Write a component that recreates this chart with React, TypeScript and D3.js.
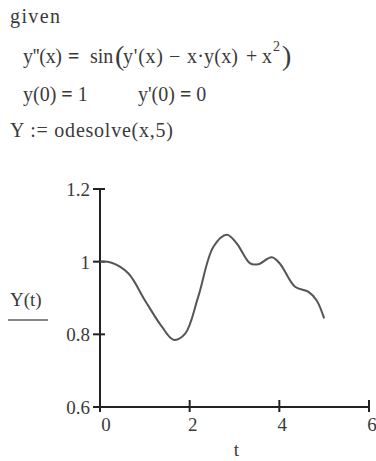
import React from 'react';
import * as d3 from 'd3';

// Y(t), t from 0 to 5
const tValues = [0, 0.26, 0.63, 1.0, 1.38, 1.64, 1.9, 2.19, 2.53, 2.83, 3.05, 3.35, 3.53, 3.83, 4.01, 4.35, 4.65, 4.83, 5.0];
const yValues = [1.0, 0.997, 0.968, 0.894, 0.821, 0.785, 0.802, 0.903, 1.041, 1.074, 1.05, 0.995, 0.993, 1.012, 0.995, 0.931, 0.917, 0.894, 0.844];

const xTicks = [0, 2, 4, 6];
const yTicks = [0.6, 0.8, 1, 1.2];
const xTickLabels = ['0', '2', '4', '6'];
const yTickLabels = ['0.6', '0.8', '1', '1.2'];

const W = 376;
const H = 461;
const font = '"Liberation Serif", "Times New Roman", serif';
const ink = '#3a3a3a';

export default function App() {
  const x = d3.scaleLinear().domain([0, 6]).range([100, 369]);
  const y = d3.scaleLinear().domain([0.6, 1.2]).range([407, 189]);

  const pts = tValues.map((t, i) => [t, yValues[i]] as [number, number]);
  const line = d3
    .line<[number, number]>()
    .x(d => x(d[0]))
    .y(d => y(d[1]))
    .curve(d3.curveCatmullRom.alpha(0.5));

  const x0 = x(0);
  const yBase = y(0.6);

  return (
    <svg
      width={W}
      height={H}
      style={{ position: 'absolute', left: 0, top: 0, background: '#fff' }}
      fontFamily={font}
    >
      {/* worksheet text */}
      <g fill={ink} fontSize={20}>
        <text x={10} y={23} textLength={50}>given</text>

        <text x={23} y={63} textLength={39}>y''(x)</text>
        <text x={68} y={63} fontWeight="bold">=</text>
        <text x={90} y={63}>sin</text>
        <text x={115} y={65} fontSize={28}>(</text>
        <text x={123} y={63} textLength={40}>y'(x)</text>
        <text x={169} y={63}>−</text>
        <text x={187} y={63} textLength={51}>x·y(x)</text>
        <text x={246} y={63}>+</text>
        <text x={262} y={63}>x</text>
        <text x={273} y={51} fontSize={14}>2</text>
        <text x={282} y={65} fontSize={28}>)</text>

        <text x={23} y={101}>y(0) <tspan fontWeight="bold">=</tspan> 1</text>
        <text x={138} y={101}>y'(0) <tspan fontWeight="bold">=</tspan> 0</text>
        <text x={10} y={137} textLength={163}>Y := odesolve(x,5)</text>
      </g>

      {/* axes */}
      <g stroke="#222" strokeWidth={2} fill="none">
        <line x1={x0} x2={x0} y1={y(1.2)} y2={yBase} />
        <line x1={x0} x2={x(6)} y1={yBase} y2={yBase} />
        {yTicks.map(v => (
          <line key={'yt' + v} x1={x0 - 7} x2={x0 + 5} y1={y(v)} y2={y(v)} />
        ))}
        {xTicks.map(v => (
          <line key={'xt' + v} x1={x(v)} x2={x(v)} y1={yBase - 7} y2={yBase + 5} />
        ))}
      </g>

      {/* tick labels */}
      <g fill={ink} fontSize={19}>
        {yTicks.map((v, i) => (
          <text key={'yl' + v} x={90} y={y(v) + 7} textAnchor="end">
            {yTickLabels[i]}
          </text>
        ))}
        {xTicks.map((v, i) => (
          <text key={'xl' + v} x={x(v) + (i === 0 ? 6 : 3)} y={431} textAnchor="middle">
            {xTickLabels[i]}
          </text>
        ))}
        <text x={(x(0) + x(6)) / 2 + 2} y={456} textAnchor="middle">t</text>
        <text x={10} y={306}>Y(t)</text>
      </g>
      <line x1={8} x2={48} y1={320} y2={320} stroke="#888" strokeWidth={2} />

      {/* curve */}
      <path d={line(pts) ?? ''} fill="none" stroke="#555" strokeWidth={2} />
    </svg>
  );
}
